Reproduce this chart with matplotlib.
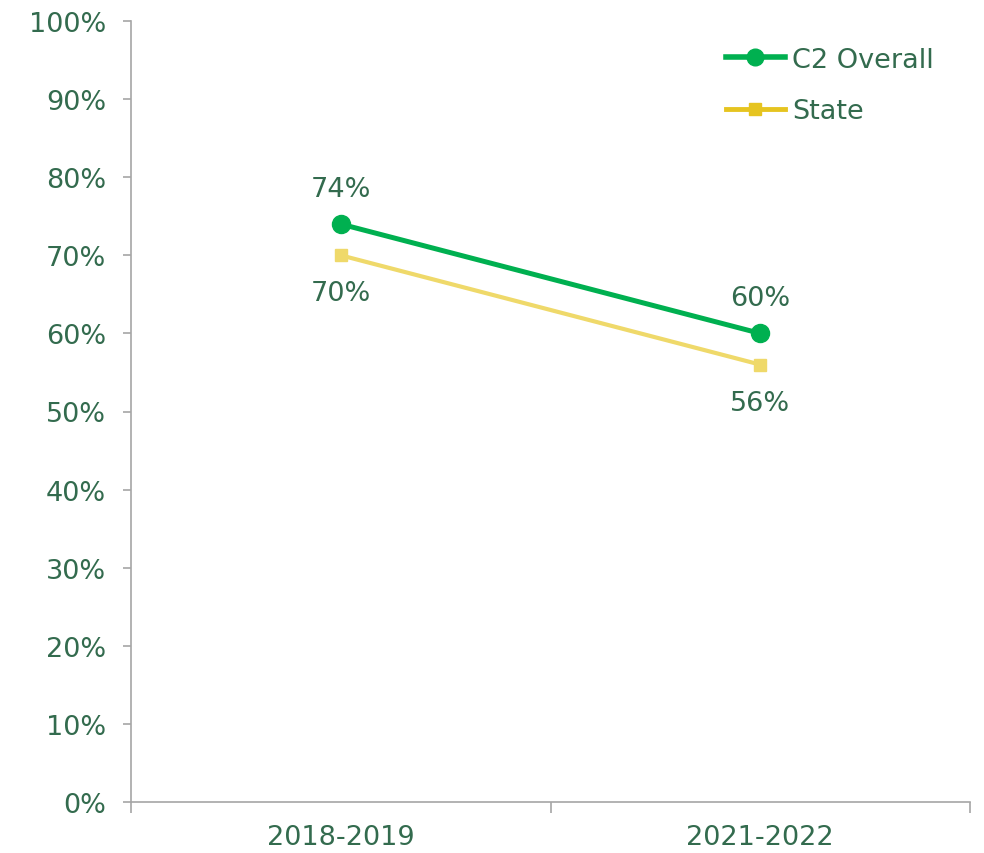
import matplotlib.pyplot as plt
from matplotlib.lines import Line2D
from matplotlib.ticker import PercentFormatter

years = ["2018-2019", "2021-2022"]
c2_overall = [74, 60]
state = [70, 56]

green = "#00B050"
yellow = "#EFD96A"
yellow_legend = "#E6C420"
txt = "#336B4E"
axis_col = "#A6A6A6"

plt.rcParams['font.family'] = ['Verdana', 'DejaVu Sans']
plt.rcParams['font.size'] = 19.5

fig = plt.figure(figsize=(9.84, 8.54), dpi=100)
ax = fig.add_axes([131/984, 1-803/854, 839/984, 781/854])

x = [0.5, 1.5]
ax.plot(x, c2_overall, color=green, lw=3.6, marker='o', ms=13, zorder=3)
ax.plot(x, state, color=yellow, lw=3.0, marker='s', ms=9, zorder=2)

for xi, v in zip(x, c2_overall):
    ax.annotate(f"{v}%", (xi, v), xytext=(0, 16), textcoords='offset points',
                ha='center', va='bottom', color=txt)
for xi, v in zip(x, state):
    ax.annotate(f"{v}%", (xi, v), xytext=(0, -18), textcoords='offset points',
                ha='center', va='top', color=txt)

ax.set_xlim(0, 2)
ax.set_ylim(0, 100)
ax.set_yticks(range(0, 101, 10))
ax.yaxis.set_major_formatter(PercentFormatter(decimals=0))
ax.set_xticks([0, 1, 2])
ax.set_xticklabels([])
ax.set_xticks(x, minor=True)
ax.set_xticklabels(years, minor=True)
ax.tick_params(axis='x', which='minor', length=0, pad=16, colors=txt)
ax.tick_params(axis='x', which='major', length=8, color=axis_col, width=1.2)
ax.tick_params(axis='y', length=6, color=axis_col, width=1.2, labelcolor=txt, pad=12)

for s in ['top', 'right']:
    ax.spines[s].set_visible(False)
for s in ['left', 'bottom']:
    ax.spines[s].set_color(axis_col)
    ax.spines[s].set_linewidth(1.2)

handles = [Line2D([], [], color=green, lw=4, marker='o', ms=12),
           Line2D([], [], color=yellow_legend, lw=3.5, marker='s', ms=9)]
ax.legend(handles, ["C2 Overall", "State"], loc='upper left',
          bbox_to_anchor=(712/984, 1-34/854), bbox_transform=fig.transFigure,
          frameon=False, handlelength=2.2, handletextpad=0.25,
          labelspacing=0.95, borderpad=0, labelcolor=txt)

fig.savefig("out.png", dpi=100)
